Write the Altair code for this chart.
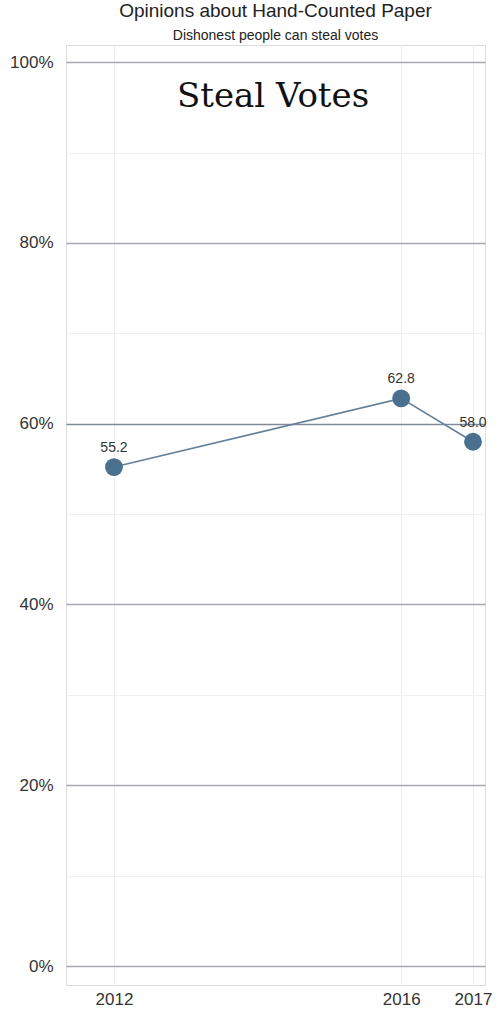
import altair as alt
import pandas as pd

# Share agreeing that dishonest people can steal votes with hand-counted paper
years = [2012, 2016, 2017]
agree_pct = [55.2, 62.8, 58.0]

y_ticks = [0, 10, 20, 30, 40, 50, 60, 70, 80, 90, 100]
x_ticks = [2012, 2016, 2017]

df = pd.DataFrame({"year": years, "pct": agree_pct})
df["label"] = [f"{v:.1f}" for v in agree_pct]

x_scale = alt.Scale(domain=[2011.332, 2017.167], nice=False, zero=False)
y_scale = alt.Scale(domain=[-2.1, 101.9], nice=False)

x_axis = alt.Axis(
    values=x_ticks, format="d", title=None, domain=False, ticks=False,
    labelFont="Liberation Sans", labelFontSize=17, labelColor="#333333",
    labelPadding=6, grid=True, gridColor="#ececf1", gridWidth=1,
)
y_axis = alt.Axis(
    values=y_ticks, title=None, domain=False, ticks=False,
    labelExpr="datum.value % 20 === 0 ? datum.value + '%' : ''",
    labelFont="Liberation Sans", labelFontSize=17, labelColor="#333333",
    labelPadding=13, grid=True,
    gridColor={"condition": [
        {"test": "datum.value === 60", "value": "#7f8a9b"},
        {"test": "datum.value % 20 === 0", "value": "#a6a6b0"},
    ], "value": "#f0f0f4"},
    gridWidth={"condition": {"test": "datum.value % 20 === 0", "value": 1.5}, "value": 1},
)

base = alt.Chart(df).encode(
    x=alt.X("year:Q", scale=x_scale, axis=x_axis),
    y=alt.Y("pct:Q", scale=y_scale, axis=y_axis),
)

line = base.mark_line(color="#65809a", strokeWidth=1.6)
points = base.mark_circle(color="#4a7090", opacity=1, size=320)
labels = base.mark_text(
    dy=-19, font="Liberation Sans", fontSize=14, color="#333333"
).encode(text="label:N")

headline = alt.Chart(pd.DataFrame({"t": ["Steal Votes"]})).mark_text(
    font="DejaVu Serif", fontSize=34, color="#111111",
    align="center", baseline="alphabetic",
).encode(x=alt.value(207), y=alt.value(62), text="t:N")

chart = (
    alt.layer(line, points, labels, headline)
    .properties(
        width=419,
        height=940,
        title=alt.TitleParams(
            "Opinions about Hand-Counted Paper",
            subtitle="Dishonest people can steal votes",
            font="Liberation Sans", fontSize=19, fontWeight="normal", color="#222222",
            subtitleFont="Liberation Sans", subtitleFontSize=14, subtitleColor="#222222",
            subtitlePadding=8, anchor="middle", offset=2,
        ),
        autosize=alt.AutoSizeParams(type="none"),
        padding={"left": 66, "top": 45, "right": 11, "bottom": 29},
    )
    .configure_view(stroke=None)
    .configure(background="white")
)

chart.save("out.html", embed_options={"renderer": "svg", "actions": False})
